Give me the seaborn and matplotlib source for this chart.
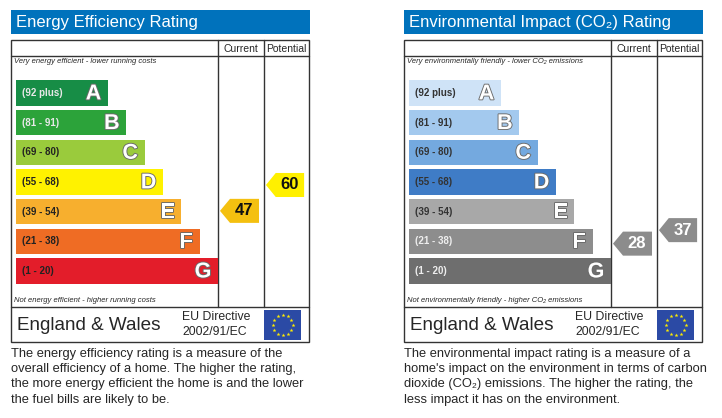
import numpy as np
import matplotlib
matplotlib.use("Agg")
import matplotlib.pyplot as plt
import matplotlib.patheffects as pe
from matplotlib.patches import Rectangle, Polygon
import seaborn as sns

# rating bands, shared by both charts
bands = ["A", "B", "C", "D", "E", "F", "G"]
band_ranges = ["(92 plus)", "(81 - 91)", "(69 - 80)", "(55 - 68)", "(39 - 54)", "(21 - 38)", "(1 - 20)"]
band_lo = [92, 81, 69, 55, 39, 21, 1]
band_hi = [100, 91, 80, 68, 54, 38, 20]

# energy efficiency chart
eer_colors = ["#178d46", "#2ca33a", "#9acb3c", "#fff200", "#f7af2e", "#ef6c24", "#e31d2a"]
eer_label_colors = ["#e8e8e8", "#e8e8e8", "#222222", "#222222", "#222222", "#222222", "#222222"]
eer_current = 47
eer_potential = 60
eer_current_color = "#f4c010"
eer_potential_color = "#fff000"

# environmental impact chart
eir_colors = ["#cfe3f7", "#a3c9ee", "#74a9df", "#3f7cc6", "#a8a8a8", "#8d8d8d", "#6e6e6e"]
eir_label_colors = ["#333333", "#333333", "#333333", "#333333", "#333333", "#eeeeee", "#eeeeee"]
eir_current = 28
eir_potential = 37
eir_arrow_color = "#8c8c8c"

sns.set_theme(style="white")
plt.rcParams["font.family"] = ["Liberation Sans", "DejaVu Sans"]
narrow = ["Liberation Sans Narrow", "Liberation Sans", "DejaVu Sans"]

W, H = 722, 418
fig = plt.figure(figsize=(W / 100, H / 100), dpi=100)


def px_axes(x, y, w, h, **kw):
    return fig.add_axes([x / W, 1 - (y + h) / H, w / W, h / H], **kw)


bg = px_axes(0, 0, W, H)
bg.set_xlim(0, W)
bg.set_ylim(H, 0)
bg.axis("off")

pitch = 29.67
bars_top = 78.2
bars_h = pitch * 7
bar_w = 0.86


def arrow(ax, value, color, text_color):
    i = next(k for k in range(7) if value >= band_lo[k])
    frac = (band_hi[i] - value) / (band_hi[i] - band_lo[i])
    yc = i - bar_w / 2 + frac * bar_w
    hh = 0.81 / 2
    ax.add_patch(Polygon([(2, yc), (12, yc - hh), (41, yc - hh), (41, yc + hh), (12, yc + hh)],
                         closed=True, fc=color, ec="none"))
    ax.text(26, yc, str(value), ha="center", va="center", fontsize=12,
            fontweight="bold", color=text_color)


def panel(ox, title, top_note, bottom_note, colors, label_colors, cur, pot,
          cur_color, pot_color, num_color, desc):
    # title bar
    bg.add_patch(Rectangle((ox + 11, 10), 299, 24, fc="#0072bc", ec="none"))
    bg.text(ox + 16, 22.5, title, color="white", fontsize=12, va="center", ha="left")
    # frame
    bg.add_patch(Rectangle((ox + 11, 40), 298, 302, fc="none", ec="#333333", lw=1))
    bg.plot([ox + 11, ox + 309], [56, 56], color="#333333", lw=1)
    bg.plot([ox + 11, ox + 309], [307, 307], color="#333333", lw=1)
    for xc in (218, 264):
        bg.plot([ox + xc, ox + xc], [40, 307], color="#333333", lw=1)
    bg.text(ox + 241, 48.5, "Current", ha="center", va="center", fontsize=7.5)
    bg.text(ox + 286.5, 48.5, "Potential", ha="center", va="center", fontsize=7.5)
    bg.text(ox + 14, 61.5, top_note, fontsize=5.5, style="italic", va="center", family=narrow)
    bg.text(ox + 14, 300, bottom_note, fontsize=5.5, style="italic", va="center", family=narrow)
    # footer
    bg.text(ox + 17, 325, "England & Wales", fontsize=13.6, va="center")
    bg.text(ox + 182, 317, "EU Directive", fontsize=8.8, va="center")
    bg.text(ox + 182, 332, "2002/91/EC", fontsize=8.8, va="center")
    bg.add_patch(Rectangle((ox + 264, 310), 37, 30, fc="#2b4aa5", ec="none"))
    ang = np.linspace(0, 2 * np.pi, 12, endpoint=False)
    bg.scatter(ox + 282.5 + 10 * np.cos(ang), 325 + 10 * np.sin(ang), marker="*", s=9,
               color="#ffed00", linewidths=0)
    # description
    bg.text(ox + 11, 347.5, desc, fontsize=9.3, va="top", ha="left", linespacing=1.38)

    # bars through seaborn
    ax = px_axes(ox + 16, bars_top, 202, bars_h)
    lengths = [5 + k for k in range(7)]
    sns.barplot(x=lengths, y=bands, hue=bands, palette=colors, orient="h", width=bar_w,
                saturation=1, legend=False, ax=ax, edgecolor="none")
    ax.set_xlim(0, 11)
    ax.set_ylim(6.5, -0.5)
    ax.axis("off")
    ax.patch.set_alpha(0)
    for k, b in enumerate(bands):
        ax.text(0.33, k, band_ranges[k], va="center", ha="left", fontsize=7,
                fontweight="bold", color=label_colors[k], family=narrow)
        ax.text(lengths[k] - 0.36, k + 0.03, b, va="center", ha="right", fontsize=15.5,
                fontweight="bold", color="white",
                path_effects=[pe.withStroke(linewidth=1.3, foreground="#6a6a6a")])

    cax = px_axes(ox + 218, bars_top, 46, bars_h, sharey=ax)
    pax = px_axes(ox + 264, bars_top, 45, bars_h, sharey=ax)
    for a in (cax, pax):
        a.set_xlim(0, 46)
        a.axis("off")
        a.patch.set_alpha(0)
    ax.set_ylim(6.5, -0.5)
    arrow(cax, cur, cur_color, num_color)
    arrow(pax, pot, pot_color, num_color)


panel(0, "Energy Efficiency Rating",
      "Very energy efficient - lower running costs",
      "Not energy efficient - higher running costs",
      eer_colors, eer_label_colors, eer_current, eer_potential,
      eer_current_color, eer_potential_color, "#111111",
      "The energy efficiency rating is a measure of the\n"
      "overall efficiency of a home. The higher the rating,\n"
      "the more energy efficient the home is and the lower\n"
      "the fuel bills are likely to be.")

panel(393, "Environmental Impact (CO₂) Rating",
      "Very environmentally friendly - lower CO₂ emissions",
      "Not environmentally friendly - higher CO₂ emissions",
      eir_colors, eir_label_colors, eir_current, eir_potential,
      eir_arrow_color, eir_arrow_color, "white",
      "The environmental impact rating is a measure of a\n"
      "home's impact on the environment in terms of carbon\n"
      "dioxide (CO₂) emissions. The higher the rating, the\n"
      "less impact it has on the environment.")

fig.savefig("out.png", dpi=100)
